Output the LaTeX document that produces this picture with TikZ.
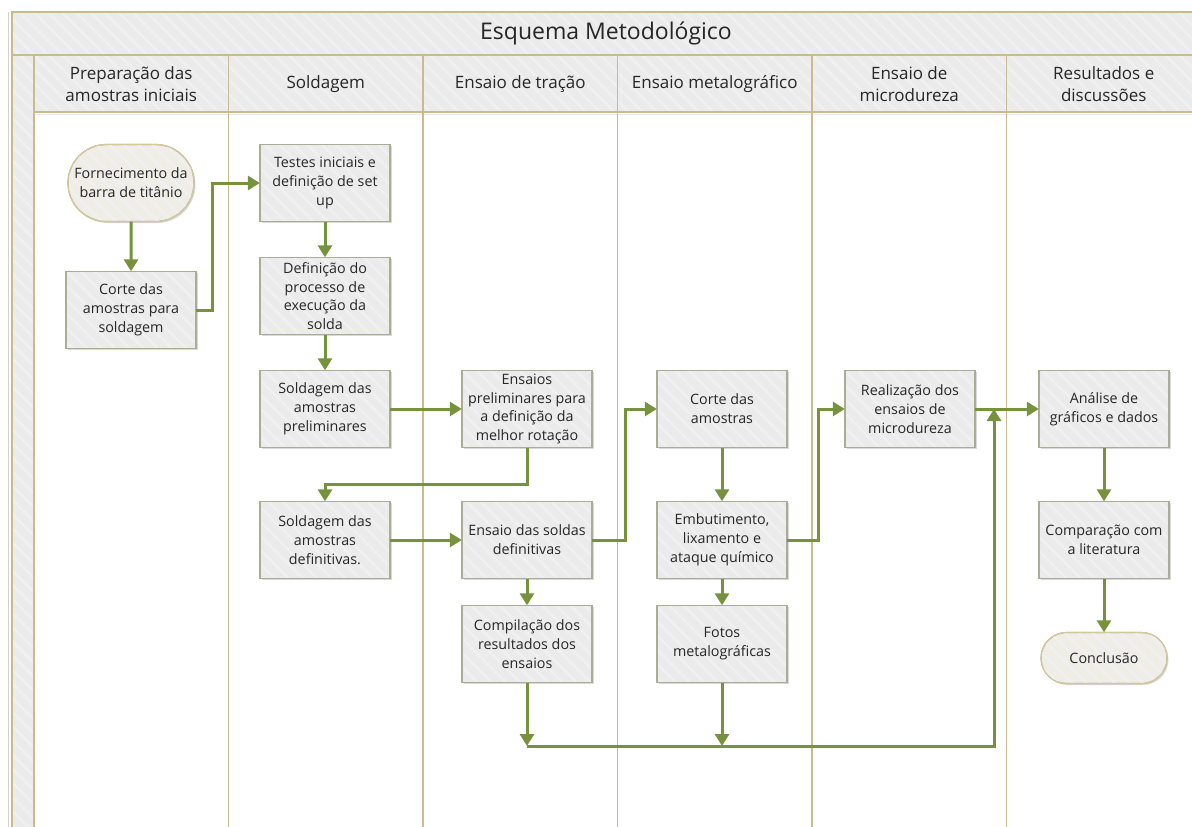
\documentclass[tikz,border=0pt]{standalone}
\usepackage{fontspec}
\setmainfont{Open Sans}
\usetikzlibrary{arrows.meta,patterns.meta,shadows,shapes.misc,positioning}

\definecolor{lanegold}{HTML}{C9BB8C}
\definecolor{flowgreen}{HTML}{76923C}
\definecolor{bandfill}{HTML}{EBEBEB}
\definecolor{hatchline}{HTML}{F0F0F0}
\definecolor{boxline}{HTML}{A9AD93}
\definecolor{termfill}{HTML}{EFEDE6}
\definecolor{termline}{HTML}{D3C79C}
\definecolor{txt}{HTML}{262626}

\tikzset{
  hatch/.style={pattern={Lines[angle=-45,distance=10pt,line width=2.5pt]}, pattern color=hatchline},
  boxhatch/.style={postaction={hatch, draw=#1, line width=1.2pt}},
  procbox/.style={fill=bandfill, boxhatch=boxline,
    minimum width=130pt, minimum height=77pt, inner sep=2pt, align=center,
    font=\fontsize{14.3}{18.8}\selectfont, text=txt,
    drop shadow={shadow xshift=1.5pt, shadow yshift=-1.5pt, opacity=0.3}},
  termbox/.style={procbox, rounded rectangle, fill=termfill, boxhatch=termline},
  lanehead/.style={font=\fontsize{17}{22}\selectfont, align=center, text=txt},
  flow/.style={draw=flowgreen, line width=3pt, ->, >={Triangle[length=12pt,width=14pt]}}
}

\begin{document}
\begin{tikzpicture}[x=1pt,y=-1pt]

    \def \lanex {34}
    \def \lanew {194.5}
    \useasboundingbox (0,0) rectangle (1192,827);

    % title band, header band and left strip
    \path[fill=bandfill, postaction={hatch}] (12,12) rectangle (1192,112);
    \path[fill=bandfill, postaction={hatch}] (12,112) rectangle (\lanex,827);
    \draw[black!18, line width=1pt] (8,12) -- (8,827);
    \draw[lanegold, line width=1.2pt] (12,827) -- (12,12) -- (1192,12);
    \draw[lanegold, line width=1.2pt] (12,55) -- (1192,55);
    \draw[lanegold, line width=1.2pt] (\lanex,112) -- (1192,112);
    \draw[black!8, line width=1pt] (\lanex,114) -- (1192,114);
    \node[font=\fontsize{23}{27}\selectfont, text=txt] (title) at (606,33) {Esquema Metodológico};

    % draw the lanes
    \foreach \i in {0,...,6}
      \draw[lanegold, line width=1.2pt] ({\lanex+\lanew*\i},55) -- ({\lanex+\lanew*\i},827);
    \foreach \t [count=\i] in {Preparação das\\amostras iniciais, Soldagem, Ensaio de tração,
        Ensaio metalográfico, Ensaio de\\microdureza, Resultados e\\discussões}
      \node[lanehead] (head\i) at ({\lanex+\lanew*(\i-0.5)},84) {\t};

    % steps
    \node[termbox] (forn) at (131,183) {Fornecimento da\\barra de titânio};
    \node[procbox] (corte) at (131,310) {Corte das\\amostras para\\soldagem};
    \node[procbox] (testes) at (325,183) {Testes iniciais e\\definição de set\\up};
    \node[procbox] (defproc) at (325,296) {Definição do\\processo de\\execução da\\solda};
    \node[procbox] (soldpre) at (325,409) {Soldagem das\\amostras\\preliminares};
    \node[procbox] (solddef) at (325,540) {Soldagem das\\amostras\\definitivas.};
    \node[procbox] (enspre) at (527,409) {Ensaios\\preliminares para\\a definição da\\melhor rotação};
    \node[procbox] (ensdef) at (527,540) {Ensaio das soldas\\definitivas};
    \node[procbox] (compil) at (527,644) {Compilação dos\\resultados dos\\ensaios};
    \node[procbox] (cortam) at (722,409) {Corte das\\amostras};
    \node[procbox] (embut) at (722,540) {Embutimento,\\lixamento e\\ataque químico};
    \node[procbox] (fotos) at (722,644) {Fotos\\metalográficas};
    \node[procbox] (micro) at (910,409) {Realização dos\\ensaios de\\microdureza};
    \node[procbox] (analise) at (1104,409) {Análise de\\gráficos e dados};
    \node[procbox] (compar) at (1104,540) {Comparação com\\a literatura};
    \node[termbox, minimum height=51pt] (concl) at (1104,658) {Conclusão};

    % draw the flow
    \draw[flow] (forn) -- (corte);
    \draw[flow] (corte.east) -- ++(16,0) |- (testes.west);
    \draw[flow] (testes) -- (defproc);
    \draw[flow] (defproc) -- (soldpre);
    \draw[flow] (soldpre) -- (enspre);
    \draw[flow] (enspre.south) -- ++(0,37) -| (solddef.north);
    \draw[flow] (solddef) -- (ensdef);
    \draw[flow] (ensdef.east) -- ++(33,0) |- (cortam.west);
    \draw[flow] (cortam) -- (embut);
    \draw[flow] (embut.east) -- ++(31,0) |- (micro.west);
    \draw[flow] (micro) -- (analise);
    \draw[flow] (ensdef) -- (compil);
    \draw[flow] (embut) -- (fotos);
    \coordinate (merge) at (994,746);
    \draw[flow] (compil) -- (compil |- merge);
    \draw[flow] (fotos) -- (fotos |- merge);
    \draw[flow] (compil |- merge) -- (merge) -- (merge |- micro.east);
    \draw[flow] (analise) -- (compar);
    \draw[flow] (compar) -- (concl);
  \end{tikzpicture}
\end{document}
